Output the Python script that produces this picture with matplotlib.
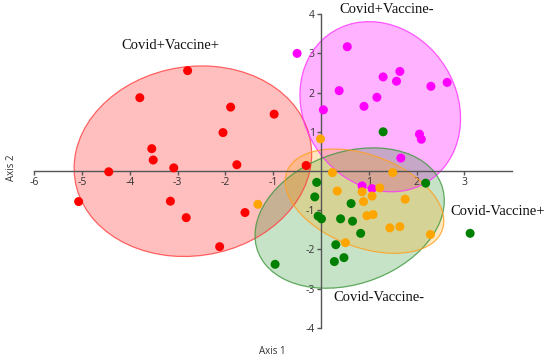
import numpy as np
import matplotlib
matplotlib.use("Agg")
import matplotlib.pyplot as plt
from matplotlib.patches import Ellipse

# ---------------- data ----------------
groups = ["Covid+Vaccine+", "Covid+Vaccine-", "Covid-Vaccine-", "Covid-Vaccine+"]
colors = ["#FF0000", "#FF00FF", "#008000", "#FFA500"]

red_x = [-2.79, -3.79, -1.89, -0.98, -2.05, -3.54, -3.51, -3.08, -1.76, -4.44,
         -5.07, -3.15, -2.82, -1.59, -2.12, -0.31]
red_y = [2.56, 1.87, 1.63, 1.45, 0.98, 0.57, 0.28, 0.08, 0.16, -0.02,
         -0.78, -0.77, -1.19, -1.06, -1.93, 0.14]

mag_x = [-0.50, 0.55, 1.65, 1.30, 1.58, 2.64, 2.30, 0.38, 1.17, 0.90,
         0.05, 2.06, 2.10, 1.67, 0.86, 1.07]
mag_y = [3.00, 3.17, 2.54, 2.40, 2.29, 2.26, 2.16, 2.05, 1.88, 1.65,
         1.56, 0.94, 0.81, 0.33, -0.38, -0.45]

grn_x = [1.30, 2.19, 3.12, -0.09, -0.13, 0.63, -0.06, 0.01, 0.41, 0.66,
         0.83, 0.31, 0.48, 0.28, -0.96]
grn_y = [1.00, -0.31, -1.59, -0.29, -0.66, -0.83, -1.15, -1.22, -1.22, -1.28,
         -1.59, -1.88, -2.21, -2.31, -2.38]

org_x = [-0.01, 0.24, 1.50, 1.23, 0.34, 0.86, 1.07, 1.76, 0.89, 0.96,
         1.09, 1.44, 1.65, 2.29, 0.51, -1.32]
org_y = [0.82, -0.04, -0.04, -0.43, -0.51, -0.53, -0.64, -0.72, -0.78, -1.14,
         -1.11, -1.45, -1.42, -1.62, -1.83, -0.85]

# ellipse: centre, half-extent in x, half-extent in y, cross term (data units)
ell_cx = [-2.68, 1.24, 0.60, 0.91]
ell_cy = [0.25, 1.64, -1.20, -0.77]
ell_wx = [2.485, 1.68, 1.98, 1.66]
ell_hy = [2.43, 2.17, 1.79, 1.33]
ell_sxy = [0.45, -0.507, 0.88, -0.84]

label_x = [-3.16, 1.38, 1.21, 3.70]
label_y = [3.21, 4.11, -3.23, -1.04]

xticks = [-6, -5, -4, -3, -2, -1, 1, 2, 3]
yticks = [-4, -3, -2, -1, 1, 2, 3, 4]

# ---------------- figure ----------------
fig = plt.figure(figsize=(5.5, 3.62), dpi=100)
ax = fig.add_axes([0, 0, 1, 1])
ax.set_xlim(-6.715, 4.791)
ax.set_ylim(-4.872, 4.362)
ax.patch.set_alpha(0)

fill_alpha = [0.25, 0.3, 0.22, 0.25]
edge_cols = ["#FF4040", "#FF33FF", "#3C963C", "#FFA020"]
for i in range(4):
    S = np.array([[ell_wx[i] ** 2, ell_sxy[i]], [ell_sxy[i], ell_hy[i] ** 2]])
    vals, vecs = np.linalg.eigh(S)
    ang = np.degrees(np.arctan2(vecs[1, 1], vecs[0, 1]))
    e = Ellipse((ell_cx[i], ell_cy[i]), 2 * np.sqrt(vals[1]), 2 * np.sqrt(vals[0]),
                angle=ang, facecolor=colors[i], alpha=fill_alpha[i], edgecolor="none", zorder=1)
    ax.add_patch(e)
    e2 = Ellipse((ell_cx[i], ell_cy[i]), 2 * np.sqrt(vals[1]), 2 * np.sqrt(vals[0]),
                 angle=ang, facecolor="none", edgecolor=edge_cols[i], alpha=0.8,
                 lw=0.9, zorder=2)
    ax.add_patch(e2)

pts = [(red_x, red_y), (mag_x, mag_y), (grn_x, grn_y), (org_x, org_y)]
for i, (xs, ys) in enumerate(pts):
    ax.scatter(xs, ys, s=42, color=colors[i], edgecolors="none", zorder=4)

for i, g in enumerate(groups):
    ax.text(label_x[i], label_y[i], g, ha="center", va="center",
            fontsize=10.5, family="Liberation Serif", color="#111111", zorder=5)

# axes through origin
for s in ["top", "right"]:
    ax.spines[s].set_visible(False)
ax.spines["left"].set_position(("data", 0))
ax.spines["bottom"].set_position(("data", 0))
ax.spines["left"].set_bounds(-4, 4)
ax.spines["bottom"].set_bounds(-6, 4)
for s in ["left", "bottom"]:
    ax.spines[s].set_color("#555555")
    ax.spines[s].set_linewidth(1.0)
    ax.spines[s].set_zorder(3)

ax.set_xticks(xticks)
ax.set_yticks(yticks)
ax.set_xticklabels([str(t) for t in xticks])
ax.set_yticklabels([str(t) for t in yticks])
ax.tick_params(axis="both", direction="out", length=3, width=1, color="#555555",
               labelsize=7.5, labelcolor="#333333", pad=1.5)
for lab in ax.get_xticklabels() + ax.get_yticklabels():
    lab.set_family("Open Sans")

fig.text(12 / 550, 1 - 168 / 362, "Axis 2", rotation=90, ha="center", va="center",
         fontsize=7, family="Open Sans", color="#333333")
fig.text(272 / 550, 1 - 351 / 362, "Axis 1", ha="center", va="center",
         fontsize=7, family="Open Sans", color="#333333")

fig.savefig("out.png", dpi=100)
